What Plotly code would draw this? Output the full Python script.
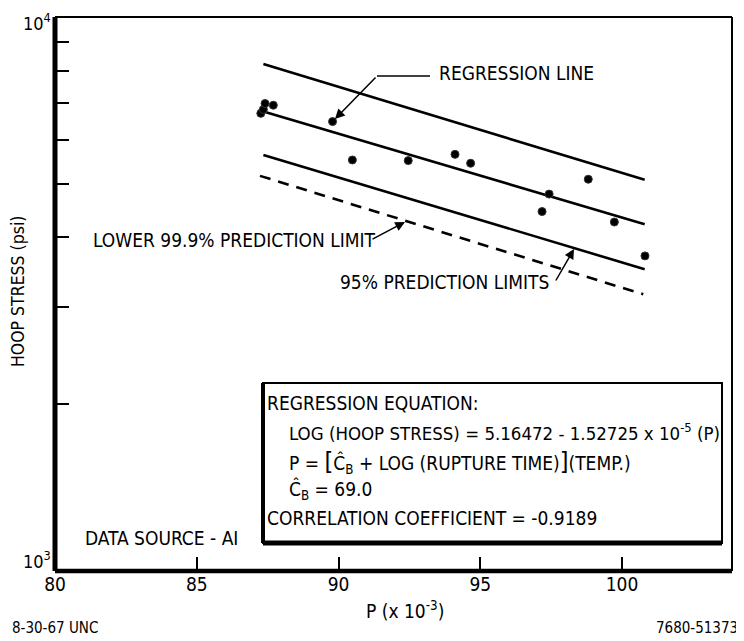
import plotly.graph_objects as go

FONT = "Liberation Sans Narrow, DejaVu Sans Condensed, Arial Narrow, sans-serif"

# ---- data ----
P_obs = [87.26, 87.35, 87.41, 87.70, 89.79, 90.49, 92.46, 94.11, 94.66, 97.18, 97.43, 98.81, 99.73, 100.81]
S_obs = [6700, 6810, 6980, 6930, 6475, 5520, 5505, 5650, 5445, 4455, 4790, 5095, 4265, 3705]

line_P = [87.35, 100.80]
regression_S = [6750, 4227]
upper95_S = [8222, 5082]
lower95_S = [5637, 3505]
lim999_P = [87.23, 100.75]
lower999_S = [5167, 3159]

x_ticks = [80, 85, 90, 95, 100]
y_ticks = [2000, 3000, 4000, 5000, 6000, 7000, 8000, 9000]
y_decade_labels = ["10<sup>3</sup>", "10<sup>4</sup>"]

# ---- layout geometry (page pixels; the page body adds an 8px offset) ----
OFF = 8
W, H = 744 - OFF, 641 - OFF
L, R, T, B = 55, 732, 17, 571


def xp(px):
    return (px - L) / (R - L)


def yp(py):
    return (B - py) / (B - T)


fig = go.Figure()
line_style = dict(color="black", width=2.6)
fig.add_trace(go.Scatter(x=line_P, y=upper95_S, mode="lines", line=line_style, hoverinfo="skip"))
fig.add_trace(go.Scatter(x=line_P, y=regression_S, mode="lines", line=line_style, hoverinfo="skip"))
fig.add_trace(go.Scatter(x=line_P, y=lower95_S, mode="lines", line=line_style, hoverinfo="skip"))
fig.add_trace(go.Scatter(x=lim999_P, y=lower999_S, mode="lines",
                         line=dict(color="black", width=2.6, dash="11px,8px"), hoverinfo="skip"))
fig.add_trace(go.Scatter(x=P_obs, y=S_obs, mode="markers",
                         marker=dict(symbol="circle", size=8, color="black",
                                     line=dict(color="#333", width=1))))

shapes = [
    # frame
    dict(type="line", xref="paper", yref="paper", x0=0, x1=0, y0=0, y1=1, line=dict(color="black", width=5)),
    dict(type="line", xref="paper", yref="paper", x0=0, x1=1, y0=0, y1=0, line=dict(color="black", width=4.5)),
    dict(type="line", xref="paper", yref="paper", x0=0, x1=1, y0=1, y1=1, line=dict(color="black", width=2)),
    dict(type="line", xref="paper", yref="paper", x0=1, x1=1, y0=0, y1=1, line=dict(color="black", width=2)),
    # equation box
    dict(type="rect", xref="paper", yref="paper", x0=xp(263), x1=xp(722), y0=yp(543), y1=yp(383),
         line=dict(color="black", width=2)),
    dict(type="line", xref="paper", yref="paper", x0=xp(263), x1=xp(263), y0=yp(543), y1=yp(383),
         line=dict(color="black", width=4)),
    dict(type="line", xref="paper", yref="paper", x0=xp(263), x1=xp(722), y0=yp(543), y1=yp(543),
         line=dict(color="black", width=5)),
    # regression leader horizontal
    dict(type="line", xref="paper", yref="paper", x0=xp(377), x1=xp(430), y0=yp(76), y1=yp(76),
         line=dict(color="black", width=1.5)),
]

ann = []


def text(px, py, s, anchor="left", size=19):
    ann.append(dict(xref="paper", yref="paper", x=xp(px), y=yp(py), text=s, showarrow=False,
                    xanchor=anchor, yanchor="middle", font=dict(family=FONT, size=size, color="black")))


def arrow(tipx, tipy, tailx, taily):
    ann.append(dict(xref="paper", yref="paper", x=xp(tipx), y=yp(tipy), ax=tailx - tipx, ay=taily - tipy,
                    text="", showarrow=True, arrowhead=2, arrowsize=1.3, arrowwidth=1.5, arrowcolor="black"))


text(437, 73, "REGRESSION LINE")
arrow(335, 119, 377, 76)
text(91, 240, "LOWER 99.9% PREDICTION LIMIT")
arrow(405, 222, 371, 240)
text(338, 282, "95% PREDICTION LIMITS")
arrow(574, 249, 555, 282)

text(265, 403, "REGRESSION EQUATION:")
text(287, 432, "LOG (HOOP STRESS) = 5.16472 - 1.52725 x 10<sup>-5</sup> (P)", size=18.5)
text(287, 462, "P = <span style='font-size:25px'>[</span>Ĉ<sub>B</sub> + LOG (RUPTURE TIME)<span style='font-size:25px'>]</span>(TEMP.)")
text(287, 490, "Ĉ<sub>B</sub> = 69.0")
text(265, 518, "CORRELATION COEFFICIENT = -0.9189")
text(83, 538, "DATA SOURCE - AI")

# decade labels of the log axis
text(53, 22, y_decade_labels[1], anchor="right", size=18)
text(53, 560, y_decade_labels[0], anchor="right", size=18)

text(405, 610, "P (x 10<sup>-3</sup>)", anchor="center", size=19)
ann.append(dict(xref="paper", yref="paper", x=xp(18), y=yp(292), text="HOOP STRESS (psi)", textangle=-90,
                showarrow=False, xanchor="center", yanchor="middle", font=dict(family=FONT, size=17.5, color="black")))
text(10, 628, "8-30-67 UNC", size=15)
text(740, 628, "7680-51373", anchor="right", size=15)

fig.update_layout(
    width=W, height=H, autosize=False,
    margin=dict(l=L - OFF, r=744 - R, t=T - OFF, b=641 - B, pad=0),
    paper_bgcolor="white", plot_bgcolor="white",
    showlegend=False,
    shapes=shapes, annotations=ann,
    font=dict(family=FONT, size=19, color="black"),
    xaxis=dict(range=[80, 103.88], tickvals=x_ticks, ticks="inside", ticklen=14, tickwidth=1.8,
               tickcolor="black", showgrid=False, zeroline=False, showline=False,
               ticklabeloverflow="allow",
               tickfont=dict(family=FONT, size=19, color="black")),
    yaxis=dict(type="log", range=[3, 4], tickvals=y_ticks, showticklabels=False, ticks="inside",
               ticklen=14, tickwidth=1.8, tickcolor="black", showgrid=False, zeroline=False, showline=False),
)

fig.write_html("out.html")
